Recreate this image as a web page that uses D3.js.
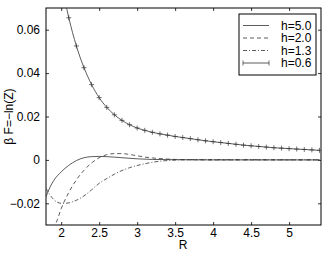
<!DOCTYPE html>
<html>
<head>
<meta charset="utf-8">
<script src="https://cdn.jsdelivr.net/npm/d3@7"></script>
<style>
  body { margin: 0; background: #fff; }
  svg text { font-family: "Liberation Sans", Arial, sans-serif; }
</style>
</head>
<body>
<svg id="chart"></svg>
<script>
// values
var xTicks = [2, 2.5, 3, 3.5, 4, 4.5, 5]
var yTicks = [-0.02, 0, 0.02, 0.04, 0.06]
var labels = ['h=5.0', 'h=2.0', 'h=1.3', 'h=0.6']

var r50 = [1.8, 1.85, 1.9, 2.0, 2.1, 2.2, 2.3, 2.4, 2.5, 2.6, 2.8, 3.0, 3.2, 3.5, 4.0, 5.4]
var v50 = [-0.017, -0.0128, -0.0096, -0.0055, -0.0025, -0.0003, 0.0010, 0.0015, 0.0016, 0.0015, 0.0010, 0.0005, 0.0002, 0.0001, 0, 0]

var r20 = [1.9, 1.95, 2.0, 2.1, 2.2, 2.3, 2.4, 2.5, 2.6, 2.7, 2.8, 2.9, 3.0, 3.1, 3.2, 3.4, 3.6, 4.0, 5.4]
var v20 = [-0.0318, -0.0275, -0.0225, -0.0150, -0.0092, -0.0048, -0.0014, 0.0010, 0.0024, 0.0029, 0.0029, 0.0025, 0.0019, 0.0013, 0.0009, 0.0004, 0.0001, 0, 0]

var r13 = [1.8, 1.85, 1.9, 1.95, 2.0, 2.05, 2.1, 2.2, 2.3, 2.4, 2.5, 2.6, 2.7, 2.8, 2.9, 3.0, 3.1, 3.2, 3.3, 3.4, 3.5, 3.7, 4.0, 5.4]
var v13 = [-0.0131, -0.0160, -0.0182, -0.0195, -0.0200, -0.0200, -0.0198, -0.0186, -0.0166, -0.0138, -0.0108, -0.0086, -0.0066, -0.0049, -0.0036, -0.0026, -0.0018, -0.0011, -0.0006, -0.0003, -0.0001, 0.0001, 0.0001, 0]

var r06 = [2.0, 2.1, 2.2, 2.3, 2.4, 2.5, 2.6, 2.7, 2.8, 2.9, 3.0, 3.1, 3.2, 3.3, 3.4, 3.5, 3.6, 3.7, 3.8, 3.9, 4.0, 4.1, 4.2, 4.3, 4.4, 4.5, 4.6, 4.7, 4.8, 4.9, 5.0, 5.1, 5.2, 5.3, 5.4]
var v06 = [0.082, 0.0655, 0.0525, 0.0425, 0.0347, 0.0287, 0.0242, 0.0208, 0.0182, 0.0162, 0.0147, 0.0136, 0.0127, 0.0120, 0.0114, 0.0108, 0.0103, 0.0098, 0.0093, 0.0088, 0.0084, 0.0080, 0.0076, 0.0072, 0.0068, 0.0065, 0.0062, 0.0059, 0.0056, 0.0054, 0.0052, 0.0050, 0.0048, 0.0046, 0.0044]

var margin = {top: 8, right: 6, bottom: 29, left: 46},
  W = 327, H = 254,
  w = W - margin.left - margin.right,
  h = H - margin.top - margin.bottom

var svg = d3.select('#chart').attr('width', W).attr('height', H)
var g = svg.append('g').attr('transform', `translate(${margin.left},${margin.top})`)

var x = d3.scaleLinear().domain([1.8, 5.42]).range([0, w])
var y = d3.scaleLinear().domain([-0.03, 0.07]).range([h, 0])

svg.append('defs').append('clipPath').attr('id', 'clip')
  .append('rect').attr('width', w).attr('height', h)

// axes, ticks inward on all four sides
var tl = 3
g.append('g').attr('transform', `translate(0,${h})`)
  .call(d3.axisBottom(x).tickValues(xTicks).tickSizeInner(-tl).tickSizeOuter(0).tickPadding(3).tickFormat(d3.format('')))
g.append('g')
  .call(d3.axisLeft(y).tickValues(yTicks).tickSizeInner(-tl).tickSizeOuter(0).tickPadding(6).tickFormat(d => d === 0 ? '0' : d3.format('.2f')(d).replace('-', '\u2212')))
g.append('g')
  .call(d3.axisTop(x).tickValues(xTicks).tickSizeInner(-tl).tickSizeOuter(0).tickFormat(''))
g.append('g').attr('transform', `translate(${w},0)`)
  .call(d3.axisRight(y).tickValues(yTicks).tickSizeInner(-tl).tickSizeOuter(0).tickFormat(''))

g.selectAll('.domain').remove()
g.selectAll('.tick line').attr('stroke', '#000').attr('stroke-width', 0.8)
g.selectAll('.tick text').attr('font-size', 12).attr('fill', '#000')
  .attr('font-family', '"Liberation Sans", Arial, sans-serif')

g.append('rect').attr('width', w).attr('height', h)
  .attr('fill', 'none').attr('stroke', '#000').attr('stroke-width', 1)

// curves
var line = d3.line().x(d => x(d[0])).y(d => y(d[1])).curve(d3.curveMonotoneX)
var series = [
  {r: r50, v: v50, dash: null},
  {r: r20, v: v20, dash: '4,3'},
  {r: r13, v: v13, dash: '4,2,1,2'},
  {r: r06, v: v06, dash: null}
]
var plot = g.append('g').attr('clip-path', 'url(#clip)')
series.forEach(function(s){
  var pts = s.r.map((r, i) => [r, s.v[i]])
  plot.append('path').datum(pts)
    .attr('d', line)
    .attr('fill', 'none')
    .attr('stroke', '#333')
    .attr('stroke-width', 0.8)
    .attr('stroke-dasharray', s.dash)
})

// + markers on h=0.6
var ms = 2.5
plot.selectAll('.mk').data(r06.map((r, i) => [r, v06[i]]))
  .join('path')
  .attr('class', 'mk')
  .attr('d', d => `M${x(d[0]) - ms},${y(d[1])}h${2 * ms}M${x(d[0])},${y(d[1]) - ms}v${2 * ms}`)
  .attr('stroke', '#333')
  .attr('stroke-width', 0.7)

// legend
var lg = svg.append('g').attr('transform', 'translate(239,14)')
lg.append('rect').attr('width', 77).attr('height', 61)
  .attr('fill', '#fff').attr('stroke', '#000').attr('stroke-width', 1)
labels.forEach(function(lab, i){
  var yy = 11.5 + i * 12.5
  lg.append('line').attr('x1', 4).attr('x2', 30).attr('y1', yy).attr('y2', yy)
    .attr('stroke', '#333').attr('stroke-width', 0.8)
    .attr('stroke-dasharray', series[i].dash)
  if (i === 3) {
    [4, 30].forEach(function(px){
      lg.append('path').attr('d', `M${px},${yy - ms}v${2 * ms}`)
        .attr('stroke', '#333').attr('stroke-width', 0.7)
    })
  }
  lg.append('text').attr('x', 42).attr('y', yy + 4.3)
    .attr('font-size', 12).text(lab)
})

// axis labels
svg.append('text')
  .attr('x', 183)
  .attr('y', 249)
  .attr('text-anchor', 'middle')
  .attr('font-size', 12)
  .text('R')

svg.append('text')
  .attr('transform', `translate(13,${margin.top + h / 2}) rotate(-90)`)
  .attr('text-anchor', 'middle')
  .attr('font-size', 12)
  .text('\u03B2 F=\u2212ln(Z)')
</script>
</body>
</html>
